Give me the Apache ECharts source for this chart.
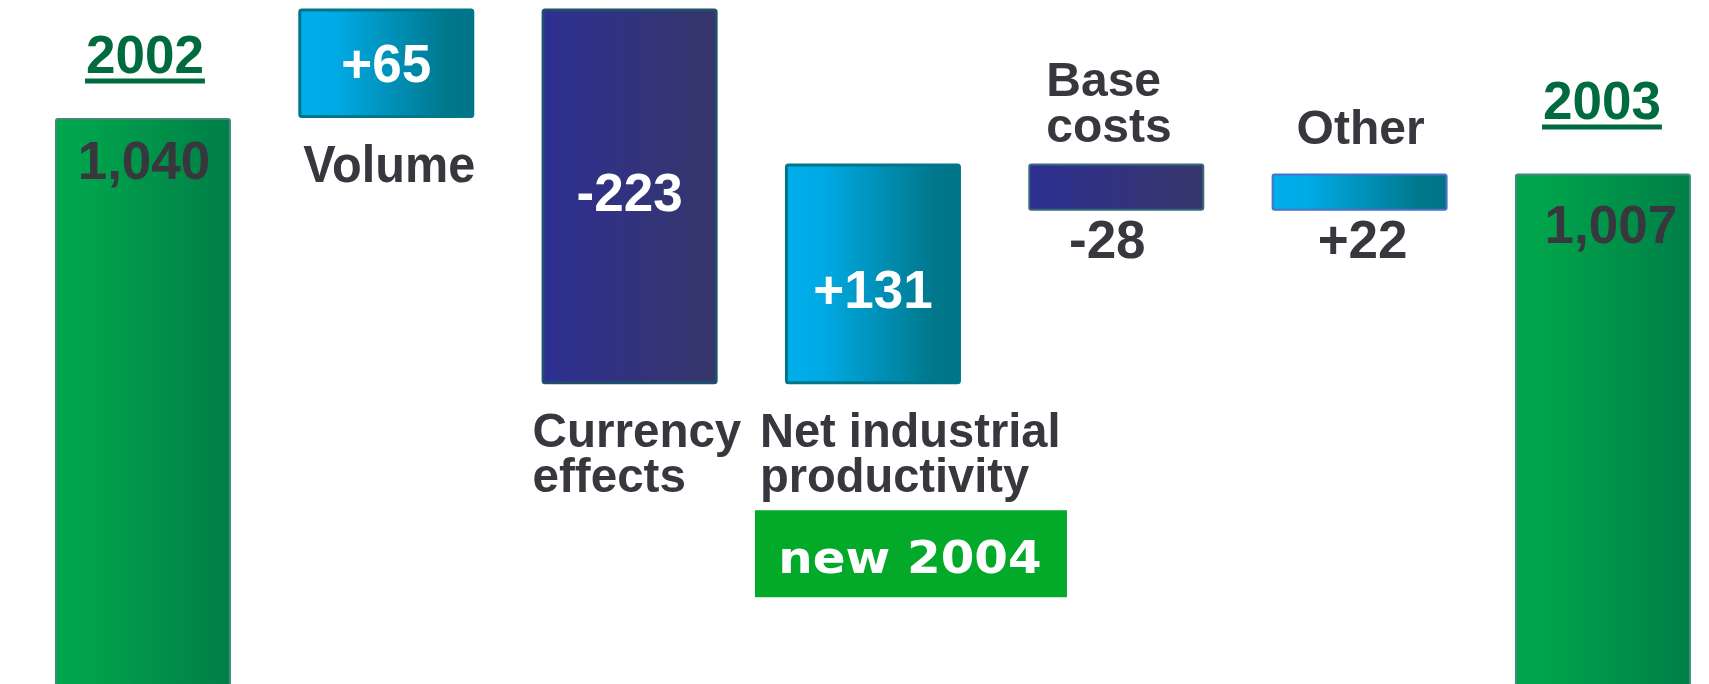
<!DOCTYPE html>
<html>
<head>
<meta charset="utf-8">
<script src="https://cdn.jsdelivr.net/npm/echarts@6/dist/echarts.min.js"></script>
<style>
  html, body { margin: 0; padding: 0; background: #ffffff; }
  #chart { width: 1709px; height: 684px; }
</style>
</head>
<body>
<div id="chart"></div>
<script>
// Operating result bridge 2002 -> 2003
const categories = ['2002', 'Volume', 'Currency\neffects', 'Net industrial\nproductivity', 'Base\ncosts', 'Other', '2003'];
const openingTotal = 1040;
const changes = [65, -223, 131, -28, 22];
const closingTotal = 1007;
const badgeText = 'new 2004';

// Build the waterfall: an invisible base and the visible step on top of it
const baseVals = [0];
const stepVals = [openingTotal];
const kinds = ['total'];
const signedVals = [openingTotal];
let running = openingTotal;
changes.forEach(function (c) {
  const next = running + c;
  baseVals.push(Math.min(running, next));
  stepVals.push(Math.abs(c));
  kinds.push(c >= 0 ? 'up' : 'down');
  signedVals.push(c);
  running = next;
});
baseVals.push(0);
stepVals.push(closingTotal);
kinds.push('total');
signedVals.push(closingTotal);

const DARK = '#37373d';
const YEAR_GREEN = '#006b3f';
const FONT = '"Liberation Sans", Arial, sans-serif';
// glyphs sit slightly high on a 'middle' baseline; push text down a little
const NUDGE = 4;

function hGrad(stops) {
  return new echarts.graphic.LinearGradient(0, 0, 1, 0,
    stops.map(function (s) { return { offset: s[0], color: s[1] }; }));
}
const fills = {
  total: [[0, '#00a64e'], [0.15, '#00a44c'], [1, '#007e47']],
  up: [[0, '#00aeea'], [0.2, '#00abe6'], [0.85, '#00778b'], [1, '#00748a']],
  down: [[0, '#2e2f92'], [1, '#36366a']]
};
const borders = [
  ['#3f8a7c', 2], ['#00768a', 3], ['#1f4f6c', 3], ['#00768a', 3],
  ['#3a6a7e', 2], ['#4a72c8', 2], ['#3f8a7c', 2]
];
// value label placement per bar
const valueLabelLayout = [
  { position: 'insideTop', distance: 16, offset: [1, 0], color: DARK },
  { position: 'inside', offset: [0, 0], color: '#ffffff' },
  { position: 'inside', offset: [0, -4], color: '#ffffff' },
  { position: 'inside', offset: [0, 16], color: '#ffffff' },
  { position: 'bottom', distance: 2, offset: [-9, 0], color: DARK },
  { position: 'bottom', distance: 2, offset: [3, 0], color: DARK },
  { position: 'insideTop', distance: 24, offset: [8, 0], color: DARK }
];

function fmtValue(i) {
  const v = signedVals[i];
  if (kinds[i] === 'total') return v.toLocaleString('en-US');
  return (v > 0 ? '+' : '-') + Math.abs(v);
}

const stepData = stepVals.map(function (v, i) {
  const lay = valueLabelLayout[i];
  return {
    value: v,
    itemStyle: {
      color: hGrad(fills[kinds[i]]),
      borderColor: borders[i][0],
      borderWidth: borders[i][1],
      borderRadius: 2
    },
    label: {
      show: true,
      position: lay.position,
      distance: lay.distance === undefined ? 5 : lay.distance,
      offset: [lay.offset[0], lay.offset[1] + NUDGE],
      color: lay.color,
      fontFamily: FONT,
      fontWeight: 'bold',
      fontSize: 53,
      formatter: function () { return fmtValue(i); }
    }
  };
});

const chart = echarts.init(document.getElementById('chart'), null, { renderer: 'canvas' });

const option = {
  animation: false,
  backgroundColor: '#ffffff',
  grid: {
    left: 21.3, top: 0, width: 1703.3, height: 691,
    containLabel: false,
    outerBoundsMode: 'none'
  },
  xAxis: {
    type: 'category',
    data: categories,
    boundaryGap: true,
    axisLine: { show: false },
    axisTick: { show: false },
    axisLabel: { show: false },
    splitLine: { show: false }
  },
  yAxis: {
    type: 'value',
    min: 700,
    max: 1110,
    axisLine: { show: false },
    axisTick: { show: false },
    axisLabel: { show: false },
    splitLine: { show: false }
  },
  series: [
    {
      name: 'base',
      type: 'bar',
      stack: 'bridge',
      barWidth: 176,
      itemStyle: { color: 'rgba(0,0,0,0)' },
      emphasis: { disabled: true },
      data: baseVals
    },
    {
      name: 'step',
      type: 'bar',
      stack: 'bridge',
      barWidth: 176,
      emphasis: { disabled: true },
      data: stepData
    }
  ]
};
chart.setOption(option);

// Category names placed around their bars, positioned through the axes
const nameLayout = [
  { edge: 'top', dy: -64, dx: 2, align: 'center', size: 53, scaleX: 1, color: YEAR_GREEN, underline: true },
  { edge: 'bottom', dy: 46, dx: 3, align: 'center', size: 52, scaleX: 0.935 },
  { edge: 'bottom', dy: 45.5, dx: -97, align: 'left', size: 48, scaleX: 0.99, lh: 45 },
  { edge: 'bottom', dy: 45.5, dx: -113, align: 'left', size: 48, scaleX: 0.98, lh: 45 },
  { edge: 'top', dy: -85, dx: -70, align: 'left', size: 48, scaleX: 1, lh: 46 },
  { edge: 'top', dy: -47, dx: 1, align: 'center', size: 48, scaleX: 1 },
  { edge: 'top', dy: -73.5, dx: -1, align: 'center', size: 53, scaleX: 1, color: YEAR_GREEN, underline: true }
];

const measureCtx = document.createElement('canvas').getContext('2d');
const graphics = [];
categories.forEach(function (name, i) {
  const lay = nameLayout[i];
  const cx = chart.convertToPixel({ xAxisIndex: 0 }, i);
  const yTop = chart.convertToPixel({ yAxisIndex: 0 }, baseVals[i] + stepVals[i]);
  const yBottom = chart.convertToPixel({ yAxisIndex: 0 }, baseVals[i]);
  const capCenter = (lay.edge === 'top' ? yTop : yBottom) + lay.dy;
  const lh = lay.lh || lay.size;
  const x = cx + lay.dx;
  graphics.push({
    type: 'text',
    x: x,
    y: capCenter - lh / 2 + NUDGE,
    scaleX: lay.scaleX,
    silent: true,
    style: {
      text: name,
      fill: lay.color || DARK,
      fontFamily: FONT,
      fontWeight: 'bold',
      fontSize: lay.size,
      lineHeight: lh,
      align: lay.align,
      verticalAlign: 'top'
    }
  });
  if (lay.underline) {
    measureCtx.font = 'bold ' + lay.size + 'px ' + FONT;
    const w = measureCtx.measureText(name).width + 2;
    graphics.push({
      type: 'rect',
      silent: true,
      shape: { x: x - w / 2, y: capCenter + 24.5, width: w, height: 5 },
      style: { fill: lay.color }
    });
  }
});

// "new 2004" badge under the productivity step
(function () {
  const idx = 3;
  const cx = chart.convertToPixel({ xAxisIndex: 0 }, idx);
  const yBottom = chart.convertToPixel({ yAxisIndex: 0 }, baseVals[idx]);
  graphics.push({
    type: 'rect',
    silent: true,
    shape: { x: cx - 118, y: yBottom + 126, width: 312, height: 87 },
    style: { fill: '#03a928' }
  });
  graphics.push({
    type: 'text',
    silent: true,
    x: cx + 37,
    y: yBottom + 173 + NUDGE,
    scaleX: 1.1,
    style: {
      text: badgeText,
      fill: '#ffffff',
      fontFamily: '"DejaVu Sans", sans-serif',
      fontWeight: 'bold',
      fontSize: 44,
      align: 'center',
      verticalAlign: 'middle'
    }
  });
})();

chart.setOption({ graphic: { elements: graphics } });
</script>
</body>
</html>
